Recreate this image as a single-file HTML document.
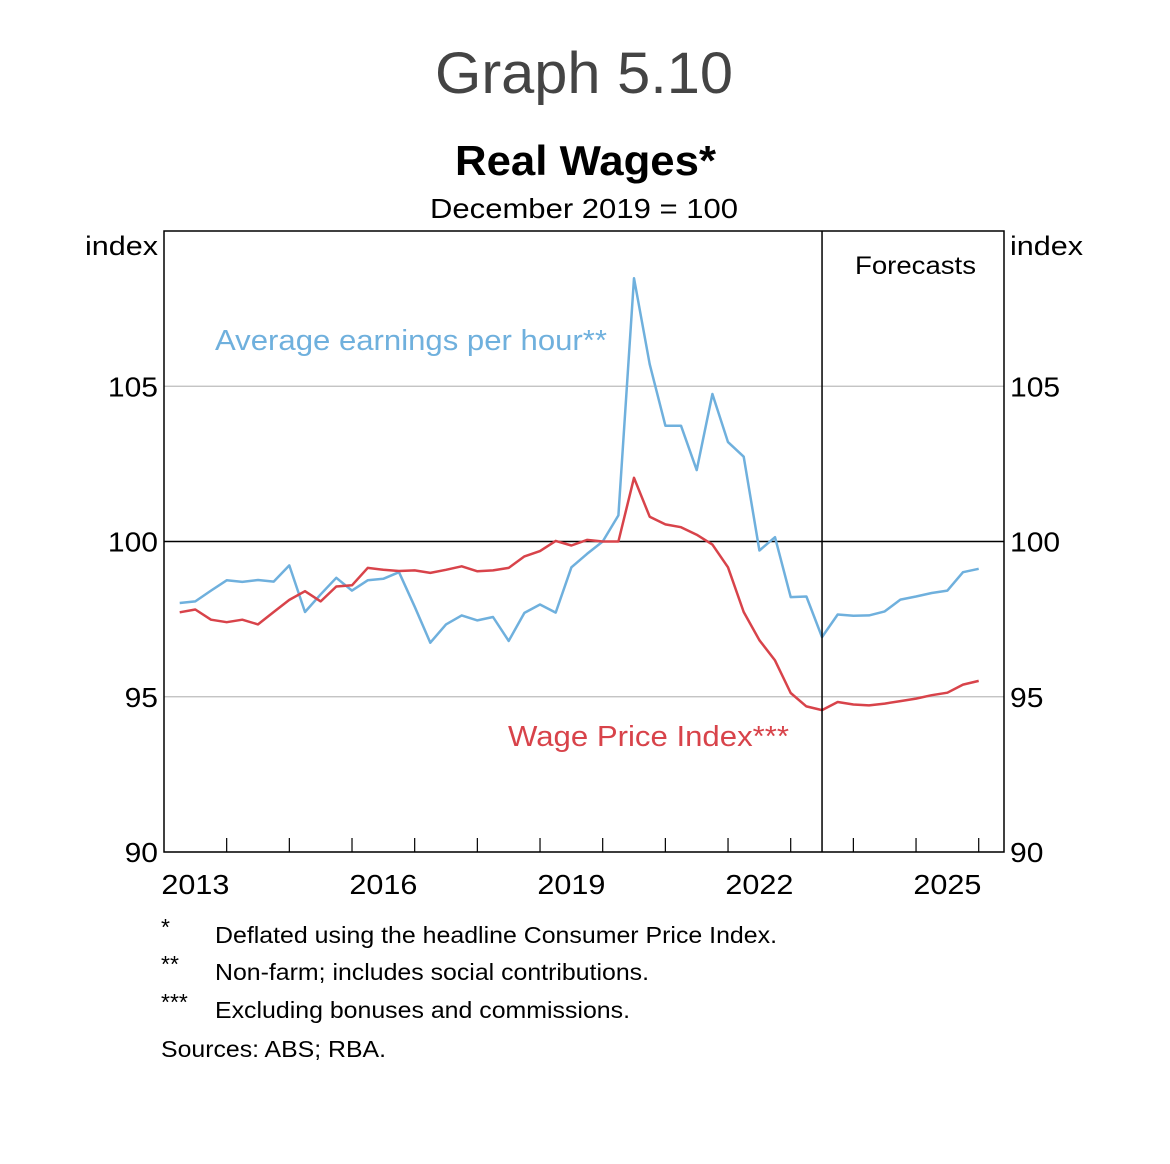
<!DOCTYPE html>
<html><head><meta charset="utf-8"><style>
body{margin:0;background:#fff;}
svg text{font-family:"Liberation Sans",Arial,sans-serif;}
</style></head><body>
<svg id="chart" width="1170" height="1159" viewBox="0 0 1170 1159" xmlns="http://www.w3.org/2000/svg">
<text x="435" y="93" font-size="58" fill="#444" textLength="298" lengthAdjust="spacingAndGlyphs">Graph 5.10</text>
<text x="455" y="175" font-size="42" font-weight="bold" fill="#000" textLength="261" lengthAdjust="spacingAndGlyphs">Real Wages*</text>
<text x="430" y="218" font-size="28" fill="#000" textLength="308" lengthAdjust="spacingAndGlyphs">December 2019 = 100</text>
<text x="85" y="255" font-size="27" textLength="73" lengthAdjust="spacingAndGlyphs">index</text>
<text x="1010" y="255" font-size="27" textLength="73" lengthAdjust="spacingAndGlyphs">index</text>
<g id="grid"></g>
<g id="series"></g>
<rect x="164" y="231" width="840" height="621" fill="none" stroke="#000" stroke-width="1.5"/>
<g id="axes"></g>
<text x="855" y="274" font-size="25" textLength="121" lengthAdjust="spacingAndGlyphs">Forecasts</text>
<text x="215" y="350" font-size="29" fill="#6fb0dd" textLength="392" lengthAdjust="spacingAndGlyphs">Average earnings per hour**</text>
<text x="508" y="746" font-size="29" fill="#d8434a" textLength="281" lengthAdjust="spacingAndGlyphs">Wage Price Index***</text>
<g font-size="23">
<text x="161" y="935">*</text><text x="215" y="943" textLength="562" lengthAdjust="spacingAndGlyphs">Deflated using the headline Consumer Price Index.</text>
<text x="161" y="972">**</text><text x="215" y="980" textLength="434" lengthAdjust="spacingAndGlyphs">Non-farm; includes social contributions.</text>
<text x="161" y="1010">***</text><text x="215" y="1018" textLength="415" lengthAdjust="spacingAndGlyphs">Excluding bonuses and commissions.</text>
<text x="161" y="1057" textLength="225" lengthAdjust="spacingAndGlyphs">Sources: ABS; RBA.</text>
</g>
</svg>
<script>
const aehr=[98.02,98.07,98.42,98.75,98.70,98.76,98.71,99.23,97.73,98.30,98.83,98.42,98.75,98.80,99.01,97.90,96.74,97.33,97.62,97.46,97.57,96.80,97.70,97.97,97.71,99.17,99.60,100.0,100.84,108.48,105.71,103.73,103.73,102.30,104.75,103.20,102.73,99.71,100.14,98.21,98.23,96.92,97.65,97.61,97.62,97.75,98.13,98.23,98.34,98.42,99.01,99.12];
const wpi=[97.72,97.81,97.48,97.40,97.48,97.33,97.73,98.12,98.40,98.07,98.55,98.59,99.15,99.09,99.05,99.07,98.99,99.09,99.20,99.04,99.07,99.15,99.52,99.69,100.02,99.87,100.05,100.0,100.0,102.05,100.80,100.55,100.46,100.22,99.90,99.17,97.73,96.82,96.17,95.12,94.69,94.57,94.83,94.75,94.72,94.78,94.86,94.94,95.05,95.13,95.39,95.51];
const yTicks=[90,95,100,105];
const yearLabels=[2013,2016,2019,2022,2025];
const startYear=2013;
const forecastStart=2023.5;
const NS='http://www.w3.org/2000/svg';
const X0=164,X1=1004,Y0=852,Y1=231,YMIN=90,YMAX=110,PXY=62.67;
const xs=t=>X0+(t-startYear)*PXY;
const ys=v=>Y0-(v-YMIN)/(YMAX-YMIN)*(Y0-Y1);
const qt=i=>startYear+(i+1)/4;
function mk(tag,attrs,parent){const e=document.createElementNS(NS,tag);for(const k in attrs)e.setAttribute(k,attrs[k]);parent.appendChild(e);return e;}
const grid=document.getElementById('grid'),axes=document.getElementById('axes'),ser=document.getElementById('series');
yTicks.forEach(v=>{
  const l=mk('line',{x1:X0,x2:X1,y1:ys(v),y2:ys(v),stroke:v===100?'#000':'#bbb','stroke-width':v===100?1.5:1.2},grid);
  
  
  const w=String(v).length*16.7;
  const a=mk('text',{x:158-w,y:ys(v)+10,'font-size':28,textLength:w,lengthAdjust:'spacingAndGlyphs'},axes);a.textContent=v;
  
  
  const b=mk('text',{x:1010,y:ys(v)+10,'font-size':28,textLength:w,lengthAdjust:'spacingAndGlyphs'},axes);b.textContent=v;
  
  
});
for(let y=startYear+1;y<=2026;y++){
  const t=mk('line',{x1:xs(y),x2:xs(y),y1:Y0,y2:Y0-14,stroke:'#000','stroke-width':1.2},axes);
  
  
}
yearLabels.forEach(y=>{
  const t=mk('text',{x:xs(y+0.5)-34,y:894,'font-size':28,textLength:68,lengthAdjust:'spacingAndGlyphs'},axes);t.textContent=y;
  
  
});
const fl=mk('line',{x1:xs(forecastStart),x2:xs(forecastStart),y1:Y1,y2:Y0,stroke:'#000','stroke-width':1.5},axes);


function path(arr,color,name){
  const d=arr.map((v,i)=>(i?'L':'M')+xs(qt(i)).toFixed(1)+' '+ys(v).toFixed(1)).join(' ');
  const p=mk('path',{d:d,fill:'none',stroke:color,'stroke-width':2.5,'stroke-linejoin':'round'},ser);
  
  
}
path(aehr,'#6fb0dd','aehr-line');
path(wpi,'#d8434a','wpi-line');
</script>
</body></html>
